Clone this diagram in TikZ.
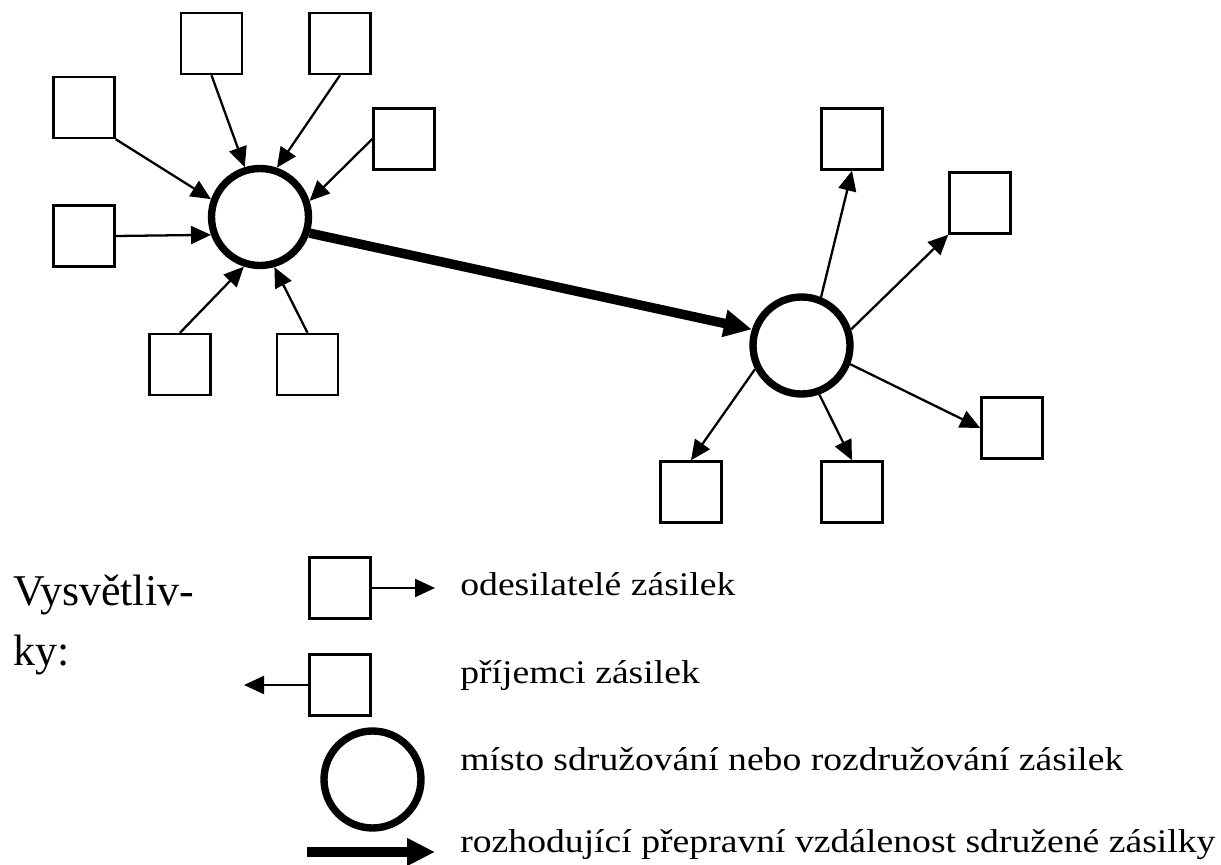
\documentclass[tikz,border=0pt]{standalone}
\usepackage{fontspec}
\setmainfont{Liberation Serif}
\newfontfamily\legendfont{Liberation Serif}[FakeStretch=1.14]
\usetikzlibrary{arrows.meta}

\begin{document}
\begin{tikzpicture}[
	box/.style={draw, line width=1.4pt, minimum size=1.22cm, inner sep=0pt},
	hub/.style={draw, circle, line width=4.2pt, minimum size=1.94cm, inner sep=0pt},
	flow/.style={line width=1.3pt, -{Triangle[length=0.4cm, width=0.36cm]}},
	main/.style={line width=5.4pt, -{Triangle[length=0.56cm, width=0.52cm]}},
	legend/.style={anchor=base west, inner sep=0pt, font=\legendfont\fontsize{18.8pt}{22pt}\selectfont},
	title/.style={anchor=base west, inner sep=0pt, font=\fontsize{25pt}{34pt}\selectfont}
	]
	\useasboundingbox (0,0) rectangle (24.42,-17.30);

	\node[hub] (lhub) at (5.20,-4.34) {};
	\node[hub] (rhub) at (16.03,-6.91) {};

	\node[box] (a1) at (4.23,-0.87) {};
	\node[box] (a2) at (6.80,-0.87) {};
	\node[box] (a3) at (1.68,-2.15) {};
	\node[box] (a4) at (8.08,-2.78) {};
	\node[box] (a5) at (1.68,-4.72) {};
	\node[box] (a6) at (3.60,-7.29) {};
	\node[box] (a7) at (6.15,-7.29) {};

	\node[box] (b1) at (17.04,-2.78) {};
	\node[box] (b2) at (19.60,-4.06) {};
	\node[box] (b3) at (20.24,-8.56) {};
	\node[box] (b4) at (13.82,-9.84) {};
	\node[box] (b5) at (17.04,-9.84) {};

	\draw[flow] (a1.south) -- (lhub.107);
	\draw[flow] (a2.south) -- (lhub.71);
	\draw[flow] (a3.south east) -- (lhub.160);
	\draw[flow] (a4.west) -- (lhub.18);
	\draw[flow] (a5.east) -- (lhub.200);
	\draw[flow] (a6.north) -- (lhub.252);
	\draw[flow] (a7.north) -- (lhub.286);

	\draw[main] (lhub.-18) -- (rhub.162);

	\draw[flow] (rhub.68) -- (b1.south);
	\draw[flow] (rhub.18) -- (b2.south west);
	\draw[flow] (rhub.-21) -- (b3.west);
	\draw[flow] (rhub.207) -- (b4.north);
	\draw[flow] (rhub.290) -- (b5.north);

	\node[title] (t1) at (0.26,-12.10) {Vysvětliv-};
	\node[title] (t2) at (0.26,-13.30) {ky:};

	\node[box] (c1) at (6.80,-11.76) {};
	\coordinate (c1end) at (8.70,-11.76);
	\draw[flow] (c1.east) -- (c1end);
	\node[legend] (l1) at (9.20,-11.90) {odesilatelé zásilek};

	\node[box] (c2) at (6.80,-13.70) {};
	\coordinate (c2end) at (4.88,-13.70);
	\draw[flow] (c2.west) -- (c2end);
	\node[legend] (l2) at (9.20,-13.66) {příjemci zásilek};

	\node[hub] (c3) at (7.45,-15.59) {};
	\node[legend] (l3) at (9.20,-15.40) {místo sdružování nebo rozdružování zásilek};

	\coordinate (c4start) at (6.14,-17.04);
	\coordinate (c4end) at (8.70,-17.04);
	\draw[main] (c4start) -- (c4end);
	\node[legend] (l4) at (9.20,-17.04) {rozhodující přepravní vzdálenost sdružené zásilky};
\end{tikzpicture}
\end{document}
